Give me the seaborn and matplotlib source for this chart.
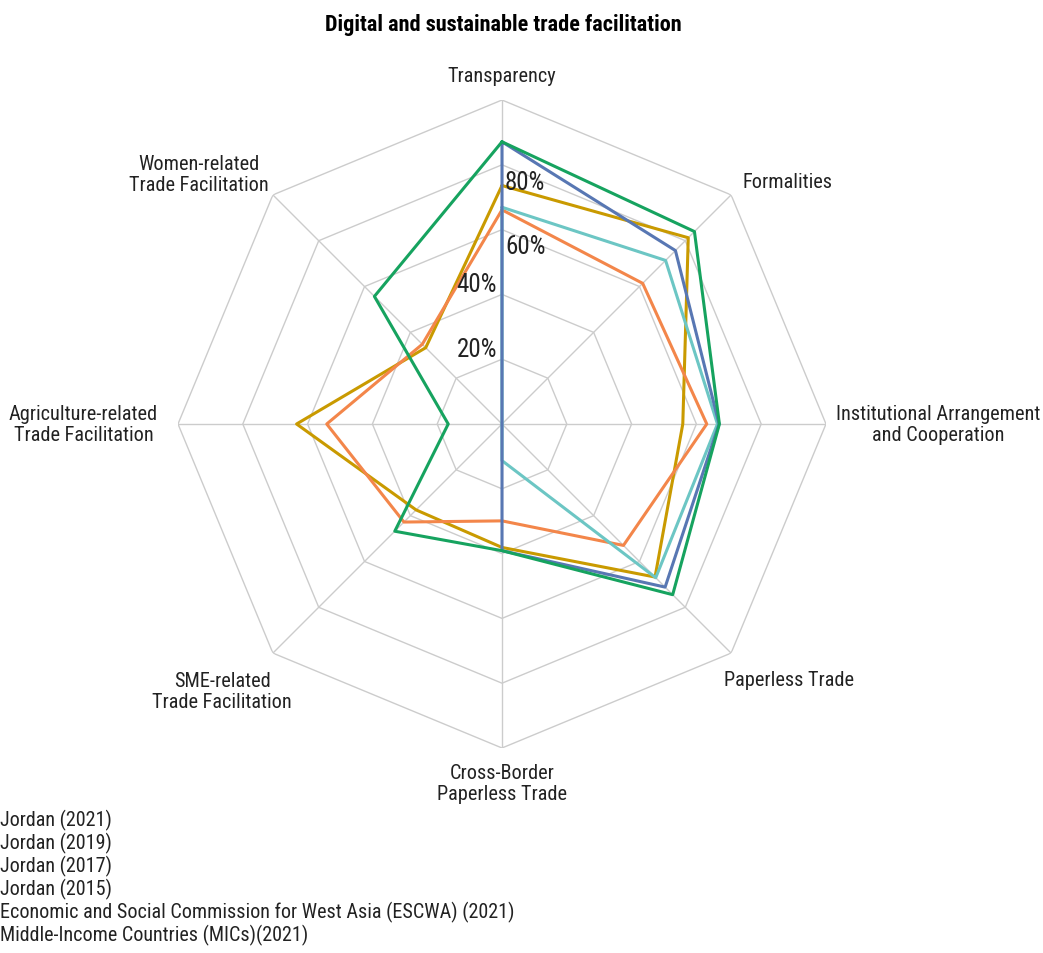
import numpy as np
import pandas as pd
import matplotlib
matplotlib.use('Agg')
import matplotlib.pyplot as plt
from matplotlib import font_manager
from matplotlib.lines import Line2D
import seaborn as sns

# categories, clockwise from the top
categories = ["Transparency", "Formalities", "Institutional Arrangement\nand Cooperation",
              "Paperless Trade", "Cross-Border\nPaperless Trade", "SME-related\nTrade Facilitation",
              "Agriculture-related\nTrade Facilitation", "Women-related\nTrade Facilitation"]

# scores in %
jordan_2021 = [87.1, 84.0, 67.1, 74.5, 39.1, 46.8, 16.6, 55.7]
jordan_2019 = [87.1, 75.7, 67.0, 71.2, 39.1, 0, 0, 0]
jordan_2017 = [66.9, 71.4, 66.5, 67.1, 11.3, 0, 0, 0]
escwa_2021 = [66.1, 61.4, 63.2, 53.0, 29.9, 42.8, 54.1, 34.8]
mics_2021 = [73.6, 81.3, 55.8, 66.8, 38.1, 37.5, 63.4, 33.3]

legend_labels = ["Jordan (2021)", "Jordan (2019)", "Jordan (2017)", "Jordan (2015)",
                 "Economic and Social Commission for West Asia (ESCWA) (2021)",
                 "Middle-Income Countries (MICs)(2021)"]

ring_levels = [20, 40, 60, 80, 100]

series = {
    "Middle-Income Countries (MICs)(2021)": mics_2021,
    "Economic and Social Commission for West Asia (ESCWA) (2021)": escwa_2021,
    "Jordan (2017)": jordan_2017,
    "Jordan (2019)": jordan_2019,
    "Jordan (2021)": jordan_2021,
}
palette = {
    "Jordan (2021)": "#16a35f",
    "Jordan (2019)": "#5877b3",
    "Jordan (2017)": "#6cc6c4",
    "Economic and Social Commission for West Asia (ESCWA) (2021)": "#f3864a",
    "Middle-Income Countries (MICs)(2021)": "#c99a00",
}

n = len(categories)
angles = np.linspace(0, 2 * np.pi, n, endpoint=False)
closed = np.append(angles, 2 * np.pi)

# long table, each loop closed back to the first axis
rows = []
for name, vals in series.items():
    for a, v in zip(closed, vals + vals[:1]):
        rows.append({"series": name, "theta": a, "value": v})
df = pd.DataFrame(rows)

sns.set_style("white")

# pick a narrow font if there is one
installed = {f.name for f in font_manager.fontManager.ttflist}
if 'Roboto Condensed' in installed:
    fam, k = 'Roboto Condensed', 1.0
elif 'Liberation Sans Narrow' in installed:
    fam, k = 'Liberation Sans Narrow', 1.0
else:
    fam, k = 'Liberation Sans', 0.84
plt.rcParams['font.family'] = [fam, 'DejaVu Sans']
txt = "#222222"

fig = plt.figure(figsize=(10.43, 9.54), dpi=100)
ax = fig.add_axes([178 / 1043, 205 / 954, 648 / 1043, 648 / 954], projection='polar')
ax.set_theta_zero_location('N')
ax.set_theta_direction(-1)

# octagon grid
for r in ring_levels:
    ax.plot(closed, [r] * (n + 1), color="#cccccc", lw=1, zorder=1)
for a in angles:
    ax.plot([a, a], [0, 100], color="#cccccc", lw=1, zorder=1)

sns.lineplot(data=df, x="theta", y="value", hue="series", hue_order=list(series.keys()),
             palette=palette, sort=False, estimator=None, legend=False, lw=2.2, ax=ax, zorder=3)

ax.set_ylim(0, 100)
ax.grid(False)
ax.set_xticks([])
ax.set_yticks([])
ax.spines['polar'].set_visible(False)
ax.set_xlabel("")
ax.set_ylabel("")

# axis labels: (offset px from outer vertex, alignment)
label_pos = [((0, -25), 'center'), ((11, -13), 'left'), ((10, 0), 'left'), ((-7, 26), 'left'),
             ((0, 35), 'center'), ((19, 38), 'right'), ((-20, 0), 'right'), ((-4, -21), 'right')]
for a, lab, ((dx, dy), ha) in zip(angles, categories, label_pos):
    ax.annotate(lab, xy=(a, 100), xytext=(dx * 0.72, -dy * 0.72), textcoords='offset points',
                ha=ha, va='center', multialignment='center', fontsize=14.6 * k, color=txt,
                linespacing=1.15)

# percentage ticks
tick_pos = {20: ((-5, -3), 'right', 'baseline'), 40: ((-5, -3), 'right', 'baseline'),
            60: ((3, 4), 'left', 'top'), 80: ((3, 5), 'left', 'top')}
for r in ring_levels[:4]:
    (dx, dy), ha, va = tick_pos[r]
    ax.annotate(f"{r}%", xy=(0, r), xytext=(dx * 0.72, -dy * 0.72), textcoords='offset points',
                ha=ha, va=va, fontsize=18 * k, color=txt)

fig.text(503 / 1043, 1 - 25 / 954, "Digital and sustainable trade facilitation",
         ha='center', va='center', fontsize=16 * k, fontweight='bold', color='black')

handles = [Line2D([], [], linestyle='none') for _ in legend_labels]
fig.legend(handles=handles, labels=legend_labels, loc='upper left', bbox_to_anchor=(0, 1 - 810 / 954),
           frameon=False, handlelength=0, handletextpad=0, borderpad=0, borderaxespad=0,
           labelspacing=0.09, fontsize=14.5 * k, labelcolor=txt)

fig.savefig("out.png", dpi=100)
